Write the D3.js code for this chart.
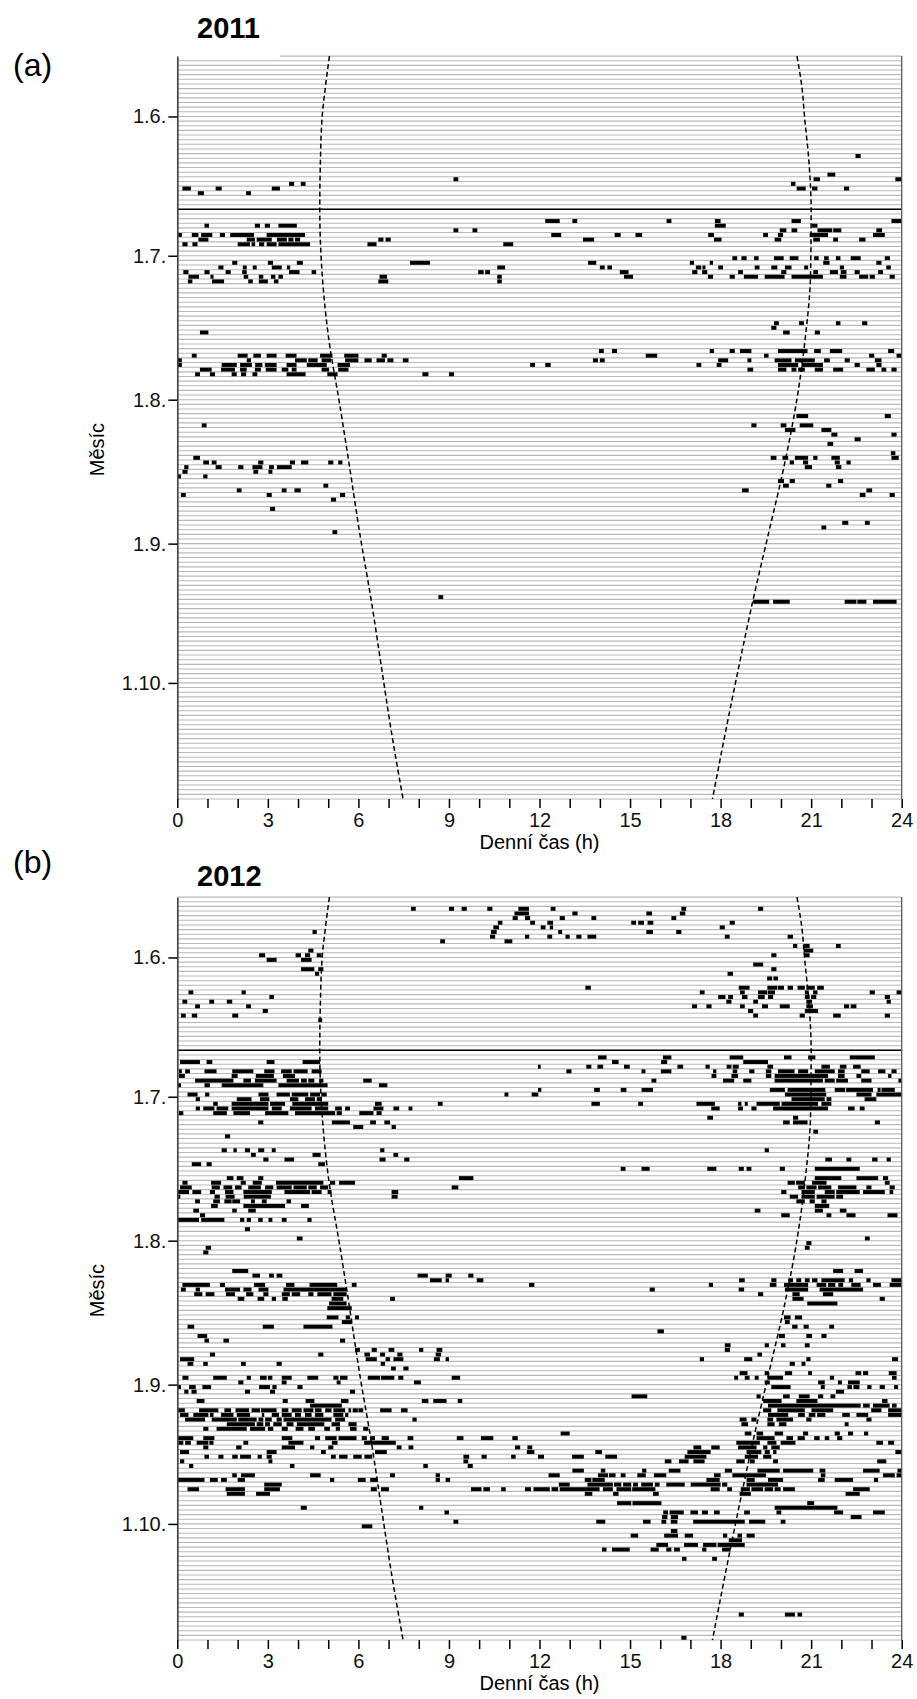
<!DOCTYPE html>
<html>
<head>
<meta charset="utf-8">
<script src="https://cdn.jsdelivr.net/npm/d3@7"></script>
<style>
  body { margin: 0; background: #fff; }
  text { font-family: "Liberation Sans", Arial, sans-serif; }
</style>
</head>
<body>
<svg id="chart" width="917" height="1699"></svg>
<script>
// rows run from 19 May to 26 Oct, one row per day
const firstDay = "05-19";
const lastDay = "10-26";
const solsticeDay = "06-21";
const monthTicks = ["06-01", "07-01", "08-01", "09-01", "10-01"];
const hourTicks = d3.range(0, 25);

// sunrise / sunset (hours)
const sunDates = ["05-19", "05-26", "06-01", "06-11", "06-21", "07-05", "07-19", "08-02", "08-16", "08-30", "09-13", "09-27", "10-11", "10-26"];
const sunrise = [5.04, 4.9, 4.8, 4.74, 4.72, 4.8, 5.02, 5.38, 5.72, 6.05, 6.42, 6.75, 7.08, 7.48];
const sunset = [20.53, 20.7, 20.78, 20.93, 21.0, 20.98, 20.8, 20.5, 20.08, 19.58, 19.08, 18.62, 18.18, 17.73];

// recording on the first row of 2011 starts at this hour
const firstRowStart2011 = 3.4;

// activity bouts: [day, [[start h, end h], ...]]
const bouts2011 = [
  ["06-09", [[22.47, 22.64]]],
  ["06-13", [[21.54, 21.8]]],
  ["06-14", [[9.15, 9.31], [21.08, 21.29], [23.79, 24]]],
  ["06-15", [[3.7, 3.87], [4.09, 4.25], [20.33, 20.48]]],
  ["06-16", [[0.17, 0.45], [1.27, 1.47], [3.13, 3.4], [20.52, 20.82], [21.03, 21.21], [22.09, 22.26]]],
  ["06-17", [[0.68, 0.88], [2.28, 2.44]]],
  ["06-23", [[12.19, 12.67], [13.09, 13.25], [16.21, 16.37], [17.81, 18], [20.35, 20.66], [23.66, 24]]],
  ["06-24", [[0.9, 1.05], [2.57, 2.74], [2.9, 3.07], [3.35, 3.96], [17.81, 18.17], [21.03, 21.21]]],
  ["06-25", [[9.15, 9.31], [9.78, 9.94], [19.96, 20.18], [20.35, 20.54], [21.21, 21.7], [21.73, 22], [23.16, 23.35]]],
  ["06-26", [[0.03, 0.15], [0.48, 0.7], [0.79, 1.16], [1.41, 1.58], [1.75, 2.54], [2.96, 4.23], [12.39, 12.72], [14.49, 14.69], [15.18, 15.4], [17.59, 17.78], [19.41, 19.57], [19.9, 20.07], [20.95, 21.56], [23.05, 23.44]]],
  ["06-27", [[0.7, 1.03], [2.3, 2.57], [2.63, 3.13], [3.3, 3.63], [3.68, 3.85], [3.9, 4.07], [6.66, 6.83], [6.9, 7.07], [13.44, 13.81], [17.78, 18.03], [19.79, 20.01], [21.07, 21.29], [21.73, 21.89], [22.59, 22.8]]],
  ["06-28", [[0.17, 0.34], [0.5, 0.67], [2, 2.41], [2.46, 2.58], [2.71, 2.88], [2.96, 3.29], [3.35, 4.4], [6.3, 6.6], [10.8, 11.13]]],
  ["07-01", [[18.39, 18.55], [18.69, 18.86], [19.11, 19.26], [19.77, 20.09], [20.29, 20.58], [21.1, 21.25], [21.43, 21.58], [21.82, 21.97], [22.31, 22.64], [23.44, 23.61]]],
  ["07-02", [[1.82, 1.99], [3, 3.17], [3.96, 4.16], [7.71, 8.37], [13.61, 13.88], [16.98, 17.12], [17.64, 17.75], [21.4, 21.61], [23.16, 23.33]]],
  ["07-03", [[1.36, 1.53], [2.17, 2.3], [2.5, 2.63], [3.13, 3.46], [3.63, 3.74], [10.6, 10.86], [14, 14.16], [14.25, 14.4], [17.18, 17.36], [17.4, 17.5], [17.92, 18.08], [19.13, 19.29], [19.68, 19.88], [20.13, 20.35], [20.77, 20.9], [21.95, 22.09], [23.49, 23.64]]],
  ["07-04", [[0.2, 0.37], [0.9, 1.07], [1.6, 1.77], [2.15, 2.3], [3.7, 4.05], [4.45, 4.6], [9.97, 10.15], [10.2, 10.36], [14.66, 14.95], [17.06, 17.23], [17.39, 17.56], [18.58, 18.74], [20.01, 20.18], [21.07, 21.23], [21.62, 21.89], [21.98, 22.17], [22.44, 22.61], [23.22, 23.38]]],
  ["07-05", [[0.37, 0.72], [1.1, 1.2], [2.2, 2.35], [2.7, 2.85], [3.1, 3.25], [3.35, 3.5], [6.7, 6.95], [10.6, 10.75], [14.8, 15.1], [17.58, 17.75], [18.3, 18.47], [18.77, 19.24], [19.46, 20.12], [20.35, 21.39], [21.95, 22.17], [22.59, 22.89], [22.94, 23.11], [23.6, 23.77]]],
  ["07-06", [[0.35, 0.5], [1.15, 1.55], [2.35, 2.5], [2.7, 3], [3.2, 3.35], [6.66, 6.99], [10.6, 10.75]]],
  ["07-15", [[19.77, 19.93], [20.6, 20.76], [21.82, 21.97], [22.69, 22.86]]],
  ["07-16", [[19.68, 19.85]]],
  ["07-17", [[0.75, 1.03], [20.07, 20.29], [21.12, 21.29]]],
  ["07-21", [[13.97, 14.13], [14.4, 14.57], [17.64, 17.78], [18.3, 18.47], [18.64, 19.02], [19.9, 20.88], [21.1, 21.32], [21.62, 22.03], [23.55, 23.75]]],
  ["07-22", [[0.48, 0.64], [2, 2.33], [2.52, 2.77], [2.96, 3.29], [3.59, 3.95], [4.73, 5.14], [5.53, 6], [6.77, 6.94], [15.52, 15.9], [19.44, 19.59], [22.92, 23.09], [23.83, 24]]],
  ["07-23", [[0, 0.15], [2.3, 2.44], [3.9, 4.29], [4.34, 4.65], [4.78, 5.09], [5.56, 6], [6.2, 6.44], [6.6, 6.88], [6.96, 7.16], [7.47, 7.66], [13.77, 13.94], [14, 14.16], [17.92, 18.25], [18.89, 19.02], [19.79, 20.35], [20.46, 21.12], [21.43, 21.62], [22.11, 22.28], [23.11, 23.33]]],
  ["07-24", [[0, 0.15], [1.47, 1.97], [2.08, 2.47], [2.58, 2.82], [2.9, 3.29], [3.62, 3.95], [4.29, 4.95], [5.31, 5.72], [11.69, 11.85], [12.19, 12.37], [17.2, 17.36], [17.87, 18.03], [19.9, 20.57], [20.68, 21.39], [22.44, 22.61], [23.16, 23.33]]],
  ["07-25", [[0.75, 1.14], [1.45, 1.91], [2.08, 2.3], [2.57, 2.77], [2.93, 3.29], [3.46, 3.68], [3.79, 3.95], [4.78, 5.03], [5.33, 5.67], [18.89, 19.08], [19.9, 20.18], [20.35, 20.51], [20.57, 20.79], [21.12, 21.39], [21.73, 22.06], [22.83, 23.11], [23.33, 23.49], [23.66, 23.83]]],
  ["07-26", [[0.59, 0.75], [1.08, 1.25], [1.8, 1.97], [2.11, 2.28], [2.49, 2.65], [3.62, 4.25], [4.97, 5.31], [8.12, 8.32], [9, 9.17]]],
  ["08-04", [[20.51, 20.9], [23.44, 23.64]]],
  ["08-06", [[0.81, 0.97], [19.02, 19.19], [19.99, 20.18], [20.62, 21.07]]],
  ["08-07", [[20.13, 20.48], [21.34, 21.67]]],
  ["08-08", [[21.67, 21.87], [23.66, 23.83]]],
  ["08-09", [[22.44, 22.64]]],
  ["08-10", [[21.54, 21.73]]],
  ["08-12", [[23.64, 23.79]]],
  ["08-13", [[0.53, 0.75], [19.66, 19.85], [20.05, 20.24], [20.46, 20.9], [21.07, 21.21], [21.67, 21.95], [23.66, 23.9]]],
  ["08-14", [[0.86, 1.05], [1.14, 1.3], [2.68, 2.85], [3.73, 3.9], [4.1, 4.34], [5, 5.17], [5.33, 5.47], [20.29, 20.43], [20.73, 20.9], [21.78, 21.95], [22.17, 22.31]]],
  ["08-15", [[0.23, 0.37], [1.27, 1.47], [2.02, 2.19], [2.49, 2.82], [3.04, 3.2], [3.3, 3.79], [20.79, 21.03], [21.82, 22]]],
  ["08-16", [[0.17, 0.34], [2.52, 2.68], [3.02, 3.15]]],
  ["08-17", [[0, 0.12], [0.86, 1]]],
  ["08-18", [[19.9, 20.1], [20.29, 20.46], [21.89, 22.06]]],
  ["08-19", [[4.84, 5], [20.07, 20.26], [21.5, 21.67]]],
  ["08-20", [[1.97, 2.13], [3.46, 3.62], [3.88, 4.09], [18.71, 18.93], [22.83, 23.02]]],
  ["08-21", [[0.12, 0.28], [2.96, 3.13], [5.39, 5.56], [22.61, 22.8], [23.6, 23.77]]],
  ["08-22", [[5.09, 5.26]]],
  ["08-24", [[3.07, 3.24]]],
  ["08-27", [[22.03, 22.23], [22.78, 22.94]]],
  ["08-28", [[21.34, 21.5]]],
  ["08-29", [[5.14, 5.3]]],
  ["09-12", [[8.65, 8.81]]],
  ["09-13", [[19.08, 19.61], [19.74, 20.29], [22.11, 22.5], [22.53, 22.83], [23.05, 23.83]]]
];

const bouts2012 = [
  ["05-21", [[7.74, 7.9], [9, 9.17], [9.42, 9.59], [10.27, 10.44], [11.3, 11.65], [12.37, 12.53], [16.7, 16.86], [19.24, 19.41]]],
  ["05-22", [[11.17, 11.65], [13.09, 13.26], [15.54, 15.73], [16.65, 16.83]]],
  ["05-23", [[11.11, 11.28], [11.52, 11.69], [12.67, 12.84], [13.72, 13.88], [16.37, 16.53]]],
  ["05-24", [[10.62, 10.77], [11.69, 11.85], [12.26, 12.45], [15.04, 15.2], [15.27, 15.46], [15.58, 15.77], [18.3, 18.47]]],
  ["05-25", [[10.47, 10.66], [12.04, 12.2], [12.34, 12.45], [17.97, 18.14]]],
  ["05-26", [[4.48, 4.62], [10.39, 10.58], [12.62, 12.75], [15.54, 15.76], [16.53, 16.7]]],
  ["05-27", [[10.36, 10.53], [11.52, 11.66], [12.26, 12.42], [12.86, 13], [13.22, 13.39], [13.59, 13.88], [18.14, 18.3], [20.22, 20.4]]],
  ["05-28", [[8.71, 8.87], [10.84, 11.1]]],
  ["05-29", [[20.4, 20.54], [20.75, 20.95], [21.82, 21.98]]],
  ["05-30", [[4.34, 4.51], [20.75, 21.07]]],
  ["05-31", [[2.71, 2.91], [3.92, 4.1], [4.23, 4.4], [4.62, 4.78], [19.68, 19.85], [20.79, 20.95]]],
  ["06-01", [[2.96, 3.29], [4.1, 4.45]]],
  ["06-02", [[19.08, 19.41]]],
  ["06-03", [[4.1, 4.54], [4.67, 4.84], [19.68, 19.85]]],
  ["06-04", [[4.56, 4.7], [18.23, 18.41]]],
  ["06-05", [[19.54, 19.71], [19.75, 19.9]]],
  ["06-07", [[13.52, 13.7], [18.6, 18.96], [19.55, 19.88], [19.9, 20.1], [20.22, 20.4], [20.55, 20.79], [20.84, 21.12], [21.2, 21.42]]],
  ["06-08", [[0.37, 0.53], [2.13, 2.27], [17.31, 17.47], [18.64, 18.8], [19.24, 19.55], [19.57, 19.8], [20.79, 20.92], [21.06, 21.21], [22.94, 23.11], [23.83, 24]]],
  ["06-09", [[3.05, 3.2], [17.92, 18.16], [18.25, 18.41], [18.71, 18.89], [19.24, 19.46], [19.57, 19.74], [20.79, 20.95], [21, 21.17], [23.44, 23.61]]],
  ["06-10", [[0.17, 0.33], [1.06, 1.22], [1.64, 1.82], [18.19, 18.36], [19.08, 19.24], [20.84, 21.03], [23.5, 23.64]]],
  ["06-11", [[0.59, 0.75], [2.28, 2.44], [17.05, 17.22], [17.53, 17.7], [18.64, 18.8], [19.37, 19.57], [19.96, 20.29], [20.84, 21.06], [22.09, 22.26], [22.31, 22.5]]],
  ["06-12", [[2.83, 3], [18.91, 19.08], [20.79, 21.23]]],
  ["06-13", [[0.12, 0.28], [0.48, 0.66], [1.82, 2.02], [19.08, 19.24], [20.62, 20.79], [21.73, 21.98], [23.44, 23.61]]],
  ["06-14", [[4.67, 4.8]]],
  ["06-22", [[13.94, 14.22], [16.09, 16.37], [18.3, 18.75], [20.1, 20.35], [20.9, 21.14], [22.28, 23.11]]],
  ["06-23", [[0.09, 0.75], [0.97, 1.16], [2.96, 3.22], [4.15, 4.73], [14.4, 14.62], [16.03, 16.23], [18.75, 19.57]]],
  ["06-24", [[11.95, 12.04], [13.55, 13.72], [13.92, 14.11], [14.8, 14.99], [16.57, 16.76], [17.5, 17.64], [18.2, 18.36], [18.4, 18.6], [19.55, 19.74], [21.34, 21.62], [21.95, 22.17], [22.39, 22.64]]],
  ["06-25", [[0.05, 0.15], [0.26, 0.42], [0.9, 1.3], [1.82, 2.52], [2.88, 3.22], [3.44, 3.79], [3.85, 4.32], [4.45, 4.78], [12.89, 13.06], [15.38, 15.51], [16.02, 16.37], [17.75, 17.86], [18.4, 18.55], [18.95, 19.12], [19.5, 19.68], [19.9, 20.45], [20.57, 20.9], [21.12, 21.78], [21.89, 22.11], [22.66, 22.94], [23.22, 23.46], [23.66, 23.83]]],
  ["06-26", [[0.05, 0.25], [1.8, 2], [2.6, 3.2], [3.5, 3.9], [17.7, 17.86], [18.36, 18.58], [19.5, 19.68], [19.79, 21.56], [21.89, 22.11], [22.5, 22.66], [23.55, 23.66]]],
  ["06-27", [[0.59, 1.86], [2.19, 2.44], [2.57, 3.29], [3.62, 4.03], [4.1, 4.29], [4.34, 4.54], [4.7, 4.84], [6.16, 6.44], [15.71, 15.87], [18.08, 18.45], [18.75, 19.02], [19.79, 21.39], [21.45, 21.78], [21.83, 22.22], [22.66, 23], [23.89, 24]]],
  ["06-28", [[0, 0.12], [0.9, 1.08], [1.47, 2.85], [3.35, 4.98], [6.68, 6.96]]],
  ["06-29", [[11.95, 12.06], [13.81, 14], [14.69, 14.88], [15.38, 15.76], [19.63, 20.13], [20.22, 21.47], [21.78, 22.13], [22.16, 23.05], [23.2, 23.3], [23.33, 23.77]]],
  ["06-30", [[0.34, 0.67], [0.92, 1.06], [2.69, 3.02], [3.29, 3.73], [3.79, 4.34], [4.4, 4.73], [4.77, 4.95], [10.84, 10.97], [11.74, 11.96], [20.13, 21.5], [22.5, 23], [23.16, 24]]],
  ["07-01", [[0.61, 0.75], [1.97, 2.46], [2.74, 3.05], [3.73, 4.01], [4.23, 4.56], [4.62, 4.78], [20.35, 21.45], [21.51, 21.67], [22.77, 23.16]]],
  ["07-02", [[1.19, 1.34], [1.8, 3.02], [3.07, 3.57], [3.81, 5], [6.55, 6.77], [8.63, 8.79], [13.72, 14], [15.27, 15.43], [17.2, 17.81], [18.58, 18.69], [18.8, 18.9], [19.19, 19.96], [20.02, 21.23], [21.34, 21.67]]],
  ["07-03", [[0.61, 0.75], [0.86, 1.23], [1.3, 1.69], [1.8, 3.02], [3.13, 3.46], [3.73, 4.45], [4.56, 5], [5.23, 5.45], [5.56, 5.72], [6.5, 6.83], [7.16, 7.35], [7.66, 7.79], [17.69, 17.97], [18.58, 18.74], [19.02, 19.19], [19.74, 21.56], [22.22, 22.44], [22.61, 22.77]]],
  ["07-04", [[0.05, 0.2], [1.19, 1.64], [1.86, 2.41], [2.91, 3.68], [3.9, 5.23], [5.28, 5.45], [6.03, 6.5], [6.6, 6.77]]],
  ["07-05", [[17.56, 17.75], [20.4, 20.57]]],
  ["07-06", [[2.68, 2.85], [5.12, 5.72], [6.39, 6.58], [6.86, 7.05], [20.07, 20.29], [20.4, 20.88], [23.11, 23.28]]],
  ["07-07", [[5.83, 6.16], [7.1, 7.24]]],
  ["07-08", [[21.07, 21.23]]],
  ["07-09", [[1.58, 1.75]]],
  ["07-12", [[1.47, 1.64], [1.86, 1.97], [2.24, 2.41], [2.68, 2.88], [3.13, 3.26], [6.72, 6.86], [19.46, 19.6]]],
  ["07-13", [[2.44, 2.6], [4.48, 4.75], [7.16, 7.32]]],
  ["07-14", [[2.85, 3.02], [3.55, 3.87], [6.7, 6.9], [7.52, 7.69], [21.47, 21.69], [22.17, 22.33], [23.02, 23.2], [23.5, 23.64]]],
  ["07-15", [[0.48, 0.79], [0.97, 1.14], [4.67, 4.89]]],
  ["07-16", [[14.69, 14.85], [15.38, 15.65], [17.56, 17.86], [18.6, 18.77], [18.86, 19.02], [19.96, 20.13], [21.12, 22.61]]],
  ["07-18", [[1.64, 1.86], [1.97, 2.19], [2.68, 2.85], [9.33, 9.81], [21.12, 22], [22.5, 23.22], [23.38, 23.55]]],
  ["07-19", [[0.17, 0.34], [1.12, 1.45], [2.1, 2.27], [2.5, 2.8], [3.27, 4.84], [5.06, 5.23], [5.36, 5.89], [20.22, 20.46], [20.5, 20.79], [21.03, 21.51], [23.44, 23.6]]],
  ["07-20", [[0.09, 0.48], [1.14, 1.41], [1.53, 1.82], [1.91, 2.13], [2.35, 2.77], [2.91, 3.18], [3.29, 3.79], [3.85, 4.29], [4.34, 4.62], [4.73, 5], [9.09, 9.31], [20.57, 20.79], [20.84, 21.18], [21.23, 21.67], [21.89, 22.5], [22.83, 23], [23.6, 23.77]]],
  ["07-21", [[0, 0.39], [0.5, 0.79], [1.08, 1.25], [1.58, 1.86], [2.19, 3.13], [3.55, 4.4], [4.45, 4.78], [4.98, 5.11], [7.1, 7.32], [20.01, 20.18], [20.68, 21.12], [21.45, 21.78], [21.83, 22.61], [22.72, 23.44], [23.6, 23.72]]],
  ["07-22", [[0, 0.1], [1.23, 1.41], [1.6, 1.9], [2.2, 3.1], [7.1, 7.3], [20.29, 20.57], [20.68, 21.12], [21.18, 21.78], [21.83, 22.06]]],
  ["07-23", [[0.59, 0.75], [1.19, 1.41], [1.56, 1.8], [1.82, 2.08], [2.44, 2.57], [2.8, 2.96], [3.62, 3.77], [20.51, 20.79], [20.95, 21.12], [21.34, 21.51]]],
  ["07-24", [[1.12, 1.34], [2.19, 3.57], [4.1, 4.36], [21.12, 21.6]]],
  ["07-25", [[0.53, 0.72], [1.82, 1.97], [2.35, 2.6], [19.13, 19.32], [21.12, 21.39], [21.95, 22.17]]],
  ["07-26", [[0.75, 0.92], [20.01, 20.29], [21.51, 21.67], [22.17, 22.47], [23.53, 23.86]]],
  ["07-27", [[0, 0.72], [0.79, 1.56], [2.08, 2.22], [2.3, 2.44], [2.68, 2.83], [3.02, 3.15], [3.46, 3.62], [4.31, 4.45]]],
  ["07-29", [[2.24, 2.41]]],
  ["07-31", [[3.96, 4.15], [22.78, 22.94]]],
  ["08-01", [[20.84, 21.01]]],
  ["08-02", [[0.94, 1.12], [20.79, 20.95]]],
  ["08-03", [[0.86, 1.03]]],
  ["08-07", [[1.82, 2.35], [21.73, 22.06], [22.44, 22.72]]],
  ["08-08", [[2.49, 2.74], [3.04, 3.2], [3.29, 3.48], [7.96, 8.3], [8.89, 9.09], [9.64, 9.81]]],
  ["08-09", [[8.37, 8.76], [8.89, 9], [9.92, 10.14], [18.61, 18.8], [19.68, 19.85], [20.24, 20.4], [20.51, 20.67], [20.79, 20.95], [21.03, 21.21], [21.34, 22.11], [22.25, 22.39], [22.83, 22.97], [23.66, 24]]],
  ["08-10", [[0.17, 1.08], [1.41, 1.58], [2.54, 2.91], [3.6, 3.88], [4.38, 5.3], [5.78, 5.94], [11.65, 11.83], [17.61, 17.75], [19.63, 19.85], [20.1, 20.9], [21.18, 21.5], [21.56, 21.8], [21.9, 22.06], [22.33, 22.64], [23.05, 23.31], [23.6, 24]]],
  ["08-11", [[0.12, 0.28], [0.61, 0.75], [1.58, 2.08], [2.19, 2.46], [2.69, 3.02], [3.52, 5.61], [15.65, 15.82], [18.6, 18.78], [20.13, 20.9], [21.28, 22.72]]],
  ["08-12", [[0.56, 0.83], [0.94, 1.23], [1.61, 1.91], [2.28, 2.52], [2.85, 3.02], [3.46, 3.73], [3.79, 4.07], [4.34, 4.51], [4.64, 5.11], [5.17, 5.61], [19.24, 19.41], [20.38, 20.62], [21.39, 21.73]]],
  ["08-13", [[2, 2.22], [2.66, 2.88], [3.13, 3.27], [3.48, 3.66], [5.11, 5.5], [7.05, 7.21], [20.38, 20.75], [23.27, 23.44]]],
  ["08-14", [[5.03, 5.61], [20.87, 21.87]]],
  ["08-15", [[4.97, 5.78]]],
  ["08-17", [[4.95, 5.34], [5.58, 5.72], [5.89, 6.02], [20.1, 20.32], [20.46, 20.7]]],
  ["08-18", [[5.45, 5.78], [20.13, 20.29]]],
  ["08-19", [[0.34, 0.56], [2.83, 3.2], [4.18, 5.14], [20.37, 20.55], [20.75, 20.92], [21.6, 21.76]]],
  ["08-20", [[15.91, 16.12]]],
  ["08-21", [[0.67, 0.99], [19.93, 20.13], [20.84, 21.03], [21.34, 21.51]]],
  ["08-22", [[0.9, 1.05], [1.53, 1.71], [5.39, 5.56]]],
  ["08-23", [[18.14, 18.33], [19.46, 19.6], [20, 20.15], [20.79, 20.95]]],
  ["08-24", [[5.89, 6.05], [6.44, 6.61], [7, 7.19], [8.01, 8.15], [8.59, 8.78], [18.14, 18.31]]],
  ["08-25", [[1.08, 1.25], [4.67, 4.84], [6.2, 6.38], [6.72, 6.88], [7.29, 7.46], [8.56, 8.74], [19.22, 19.37]]],
  ["08-26", [[0.09, 0.56], [6.24, 6.61], [6.9, 7.05], [7.16, 7.49], [8.5, 8.7], [8.89, 9], [17.31, 17.45], [18.78, 19.05], [20.84, 20.98], [23.68, 23.88]]],
  ["08-27", [[0.34, 0.53], [0.86, 1.01], [2.11, 2.27], [3.29, 3.46], [6.74, 6.88], [20.29, 20.46], [20.68, 20.81]]],
  ["08-28", [[7.08, 7.24], [7.49, 7.66]]],
  ["08-29", [[18.63, 18.89], [19.46, 19.6], [20.13, 20.37], [20.9, 21.03], [22.47, 22.66], [22.72, 22.89], [23.57, 23.83]]],
  ["08-30", [[0.17, 0.37], [1.19, 1.64], [2.3, 2.44], [2.74, 2.96], [3, 3.15], [3.46, 3.79], [4.31, 4.67], [5.17, 5.34], [5.39, 5.64], [6.31, 6.72], [6.75, 7.19], [7.32, 7.49], [9.09, 9.37], [18.45, 18.58], [18.8, 18.96], [19.13, 19.26], [19.55, 20.07], [21.62, 21.76], [23.68, 23.83]]],
  ["08-31", [[2.02, 2.19], [3.46, 3.62], [5.28, 5.41], [7.84, 8.07], [19.46, 19.63], [21.23, 21.45], [21.89, 22.02], [22.22, 22.61]]],
  ["09-01", [[0, 0.12], [0.39, 0.61], [0.83, 1.12], [2.71, 3.07], [3.15, 3.29], [3.98, 4.15], [19.68, 20.32], [21.32, 21.45], [22.2, 22.35], [22.4, 22.6], [22.86, 23], [23.27, 23.44], [23.75, 23.88]]],
  ["09-02", [[0.23, 0.37], [0.47, 0.64], [2.24, 2.41], [3.07, 3.24], [5.72, 5.89], [21.82, 22.09]]],
  ["09-03", [[15.05, 15.57], [19.19, 19.33], [20.07, 20.29], [20.59, 20.95], [21.23, 21.4], [21.64, 21.8]]],
  ["09-04", [[0.64, 0.9], [3.49, 3.66], [4.25, 4.54], [5.42, 5.67], [8.1, 8.32], [8.48, 8.92], [9.29, 9.44], [19.41, 20.02], [20.51, 21.21], [23.35, 23.53]]],
  ["09-05", [[4.4, 5.45], [19.57, 22.64], [22.72, 22.94], [23.05, 23.6], [23.68, 23.83]]],
  ["09-06", [[0.03, 0.25], [0.72, 1.36], [1.56, 1.78], [1.93, 2.38], [2.46, 2.74], [2.77, 3.29], [3.46, 3.68], [3.79, 4.12], [4.18, 4.51], [4.56, 4.78], [4.9, 5.11], [5.17, 5.56], [5.67, 5.76], [5.81, 5.98], [6, 6.16], [6.72, 7.1], [7.41, 7.63], [19.41, 19.68], [19.88, 20.79], [21.01, 21.73], [22.99, 23.33], [23.55, 24]]],
  ["09-07", [[0.09, 0.37], [0.53, 1.03], [1.08, 1.2], [1.45, 1.86], [1.97, 2.41], [2.8, 2.88], [3.13, 3.37], [3.46, 3.79], [3.9, 4.1], [4.23, 4.45], [4.56, 4.84], [5.17, 5.5], [5.56, 5.67], [19.57, 20.24], [20.57, 20.79], [20.92, 21.14], [21.2, 21.47], [22.03, 22.28], [22.5, 22.89], [23.55, 24]]],
  ["09-08", [[0.26, 0.92], [1.14, 1.97], [2.02, 2.63], [2.69, 2.85], [2.91, 3.13], [3.29, 3.46], [3.52, 5.11], [5.23, 5.56], [7.79, 7.93], [18.63, 18.86], [19.02, 19.19], [19.55, 19.74], [19.85, 20.4], [20.84, 21.01], [22.83, 23]]],
  ["09-09", [[1.64, 2.57], [2.63, 2.85], [2.91, 3.07], [3.18, 3.46], [3.62, 3.85], [3.96, 4.87], [5.11, 5.39], [5.67, 5.94], [18.69, 18.91], [19.55, 19.79], [19.93, 20.18], [22.11, 22.24]]],
  ["09-10", [[0.86, 1.03], [1.3, 2.3], [2.41, 2.91], [3, 3.18], [3.46, 3.66], [3.92, 4.18], [4.34, 4.56], [4.87, 5.06], [5.25, 5.39], [5.72, 5.94], [6.16, 6.33]]],
  ["09-11", [[12.7, 13], [18.8, 19.02], [19.19, 19.41], [19.79, 20.07], [20.73, 20.9], [21.78, 21.95], [22.22, 22.39], [22.75, 22.89]]],
  ["09-12", [[0.01, 0.53], [0.86, 1.23], [3.46, 3.81], [4.56, 4.73], [4.9, 5.28], [5.34, 5.94], [6.11, 6.28], [6.39, 6.55], [6.77, 7.01], [7.63, 7.82], [9.26, 9.48], [10.06, 10.47], [11.1, 11.28], [19.19, 19.79], [20.18, 20.4], [20.55, 20.79], [21.1, 21.28], [21.45, 21.6], [21.86, 22.03]]],
  ["09-13", [[0.03, 0.2], [0.26, 0.45], [0.64, 1.03], [1.06, 1.2], [2.19, 2.35], [3.68, 4.18], [5.12, 5.31], [6.19, 7.24], [18.52, 19.3], [19.55, 19.85], [19.99, 20.48], [23.16, 23.38], [23.55, 23.75]]],
  ["09-14", [[0.86, 1.03], [1.95, 2.13], [3.46, 3.9], [4.4, 4.54], [5, 5.17], [7.27, 7.43], [7.66, 7.82], [11.19, 11.36], [11.6, 11.76], [17.1, 17.36], [17.69, 17.97], [18.58, 19.19], [19.41, 19.55], [19.68, 19.96]]],
  ["09-15", [[0.09, 0.39], [2.96, 3.29], [4.76, 4.92], [6.55, 6.94], [11.58, 11.83], [13.85, 14.07], [16.9, 17.67], [18.86, 19.35], [19.46, 19.63], [19.74, 19.85], [23.79, 24]]],
  ["09-16", [[0.9, 1.05], [1.36, 1.53], [1.82, 2], [2.08, 2.44], [2.66, 2.8], [2.96, 3.13], [5.09, 5.25], [5.36, 5.64], [5.83, 6.11], [6.2, 6.46], [9.48, 9.67], [10.08, 10.25], [11.06, 11.21], [11.95, 12.15], [13.08, 13.47], [14.18, 14.57], [16.81, 17.53], [18.8, 19.24], [19.41, 19.68]]],
  ["09-17", [[0.09, 0.23], [3.02, 3.15], [9.48, 9.64], [16.15, 16.37], [16.62, 16.94], [17.1, 17.47], [18.52, 18.8], [18.97, 19.13], [19.74, 19.9], [23.19, 23.49]]],
  ["09-18", [[0.39, 0.53], [3.73, 3.88], [8.15, 8.3], [9.62, 9.79]]],
  ["09-19", [[13.09, 13.47], [14.03, 14.18], [15.4, 15.54], [16.28, 16.67], [18.14, 18.38], [19.22, 19.96], [20.07, 21.07], [21.28, 21.47], [22.72, 23.27], [23.86, 24]]],
  ["09-20", [[1.82, 1.97], [2.11, 2.57], [4.4, 4.75], [7.05, 7.21], [8.56, 8.7], [12.3, 12.67], [13.94, 14.27], [14.3, 14.52], [14.69, 14.85], [15.24, 15.52], [15.79, 16.2], [17.78, 18], [18.39, 19.5], [21.32, 21.47], [23.38, 23.77], [23.83, 24]]],
  ["09-21", [[0.01, 0.9], [1.08, 1.34], [1.45, 1.64], [2, 2.24], [5.06, 5.2], [5.98, 6.24], [6.39, 6.64], [8.56, 8.7], [8.89, 9.04], [13.5, 13.72], [13.75, 14.16], [17.53, 17.97], [18.86, 19.13], [19.57, 20.07], [21.23, 21.45], [21.78, 22.39], [23.08, 23.22]]],
  ["09-22", [[2.88, 3.46], [12.64, 13], [13.59, 14.43], [14.47, 14.71], [14.77, 15.04], [15.1, 15.26], [15.37, 15.76], [15.82, 15.98], [16.2, 16.81], [17.01, 18], [18.05, 18.22], [18.86, 19.9]]],
  ["09-23", [[0.34, 0.72], [1.6, 2.24], [2.88, 3.4], [6.41, 6.61], [6.75, 7.01], [9.73, 10.08], [10.14, 10.36], [10.73, 10.88], [11.52, 11.72], [11.8, 12.34], [12.4, 12.62], [12.67, 13.99], [14.1, 14.43], [14.55, 15.04], [15.07, 15.84], [17.67, 17.97], [18.22, 18.38], [18.67, 18.97], [19.02, 19.41], [19.46, 19.74], [19.79, 19.99], [20.07, 20.46], [22.39, 22.94]]],
  ["09-24", [[1.64, 2.24], [2.61, 3.07], [13.5, 13.75], [14.44, 14.62], [15.76, 15.95], [18.63, 19], [22.14, 22.61]]],
  ["09-26", [[14.57, 15.04], [15.08, 16.04], [20.87, 21.1]]],
  ["09-27", [[4.09, 4.29], [8.01, 8.15], [19.79, 21.87]]],
  ["09-28", [[8.85, 9], [16.1, 16.26], [16.31, 16.78], [17, 17.25], [17.38, 17.58], [17.78, 17.97], [18.78, 18.97], [19.85, 20.01], [21.76, 22.06], [23.05, 23.44]]],
  ["09-29", [[16.06, 16.24], [16.35, 16.59], [22.31, 22.67]]],
  ["09-30", [[9.15, 9.31], [13.88, 14.18], [15.43, 15.68], [16.04, 16.2], [16.35, 16.57], [17.09, 18.8], [18.94, 19.48], [19.99, 20.15]]],
  ["10-01", [[6.11, 6.46]]],
  ["10-02", [[16.35, 16.57]]],
  ["10-03", [[15.02, 15.27], [16.13, 16.59], [16.81, 17.09], [18.08, 18.22], [18.56, 18.71], [18.86, 19.13]]],
  ["10-04", [[18.27, 18.71]]],
  ["10-05", [[15.87, 16.26], [16.79, 17.25], [17.42, 17.86], [17.9, 18.8]]],
  ["10-06", [[14.07, 14.22], [14.4, 14.99], [15.68, 15.95], [16.2, 16.37], [16.46, 16.65], [17.39, 17.53], [18.05, 18.33]]],
  ["10-08", [[16.72, 16.87], [17.72, 17.88]]],
  ["10-20", [[18.6, 18.77], [20.13, 20.46], [20.55, 20.7]]],
  ["10-25", [[16.7, 16.87]]]
];

const svg = d3.select("#chart");

const plotLeft = 177.3;
const plotRight = 901.7;
const plotHeight = 742.9;

const x = d3.scaleLinear().domain([0, 24]).range([plotLeft, plotRight]);

const panels = [
  { year: 2011, tag: "(a)", top: 56.1, bouts: bouts2011, firstFrom: firstRowStart2011, tagY: 76, titleY: 38 },
  { year: 2012, tag: "(b)", top: 897.1, bouts: bouts2012, firstFrom: 0, tagY: 873, titleY: 886 }
];

panels.forEach(p => drawPanel(p));

function drawPanel(p) {
  const day = md => d3.utcParse("%Y-%m-%d")(`${p.year}-${md}`);
  const bottom = p.top + plotHeight;

  const y = d3.scaleUtc()
    .domain([day(firstDay), day(lastDay)])
    .range([p.top, bottom]);

  const g = svg.append("g");

  // one grey line per day
  const lines = d3.utcDay.range(day(firstDay), d3.utcDay.offset(day(lastDay), 1));
  g.append("g")
    .selectAll("line")
    .data(lines)
    .enter()
    .append("line")
    .attr("x1", (d, i) => x(i === 0 ? p.firstFrom : 0))
    .attr("x2", x(24))
    .attr("y1", d => y(d))
    .attr("y2", d => y(d))
    .attr("stroke", "#b9b9b9")
    .attr("stroke-width", 1.1);

  // activity bouts
  const rects = [];
  p.bouts.forEach(([md, list]) => {
    const d0 = day(md);
    list.forEach(([s, e]) => rects.push({ d0: d0, s: s, e: e }));
  });

  g.append("g")
    .selectAll("rect")
    .data(rects)
    .enter()
    .append("rect")
    .attr("x", d => x(d.s))
    .attr("width", d => x(d.e) - x(d.s))
    .attr("y", d => y(d.d0) + 0.45)
    .attr("height", d => y(d3.utcDay.offset(d.d0, 1)) - y(d.d0) - 0.7)
    .attr("fill", "#000");

  // summer solstice
  g.append("line")
    .attr("x1", x(0))
    .attr("x2", x(24))
    .attr("y1", y(day(solsticeDay)))
    .attr("y2", y(day(solsticeDay)))
    .attr("stroke", "#000")
    .attr("stroke-width", 1.4);

  // sunrise and sunset
  [sunrise, sunset].forEach(series => {
    const pts = sunDates.map((md, i) => ({ date: day(md), h: series[i] }));
    g.append("path")
      .datum(pts)
      .attr("fill", "none")
      .attr("stroke", "#000")
      .attr("stroke-width", 1.5)
      .attr("stroke-dasharray", "5,3")
      .attr("d", d3.line().x(d => x(d.h)).y(d => y(d.date)).curve(d3.curveMonotoneY));
  });

  // right frame line
  g.append("line")
    .attr("x1", x(24))
    .attr("x2", x(24))
    .attr("y1", p.top)
    .attr("y2", bottom)
    .attr("stroke", "#5a5a5a")
    .attr("stroke-width", 1.3);

  // y axis
  const yAxis = d3.axisLeft(y)
    .tickValues(monthTicks.map(day))
    .tickFormat(d3.utcFormat("%-d.%-m."))
    .tickSize(9)
    .tickSizeOuter(0)
    .tickPadding(2);

  const ya = g.append("g")
    .attr("transform", `translate(${plotLeft}, 0)`)
    .call(yAxis);
  ya.select(".domain").attr("stroke", "#444").attr("stroke-width", 1.7);
  ya.selectAll(".tick line").attr("stroke", "#000").attr("stroke-width", 1.5);
  ya.selectAll(".tick text").attr("font-size", 20).attr("fill", "#111")
    .attr("font-family", "Liberation Sans, Arial, sans-serif");

  // x axis
  const xAxis = d3.axisBottom(x)
    .tickValues(hourTicks)
    .tickFormat(d => d % 3 === 0 ? d : "")
    .tickSize(9)
    .tickPadding(5);

  const xa = g.append("g")
    .attr("transform", `translate(0, ${bottom})`)
    .call(xAxis);
  xa.select(".domain").remove();
  xa.selectAll(".tick line").attr("stroke", "#000").attr("stroke-width", 1.5);
  xa.selectAll(".tick text").attr("font-size", 20).attr("fill", "#111")
    .attr("font-family", "Liberation Sans, Arial, sans-serif");

  // titles
  g.append("text")
    .attr("x", (plotLeft + plotRight) / 2)
    .attr("y", bottom + 50)
    .attr("text-anchor", "middle")
    .attr("font-size", 20)
    .text("Denní čas (h)");

  g.append("text")
    .attr("transform", `translate(104, ${p.top + plotHeight / 2 + 22}) rotate(-90)`)
    .attr("text-anchor", "middle")
    .attr("font-size", 20)
    .text("Měsíc");

  g.append("text")
    .attr("x", 197)
    .attr("y", p.titleY)
    .attr("font-size", 29)
    .attr("font-weight", "bold")
    .text(p.year);

  g.append("text")
    .attr("x", 13)
    .attr("y", p.tagY)
    .attr("font-size", 32)
    .text(p.tag);
}
</script>
</body>
</html>
